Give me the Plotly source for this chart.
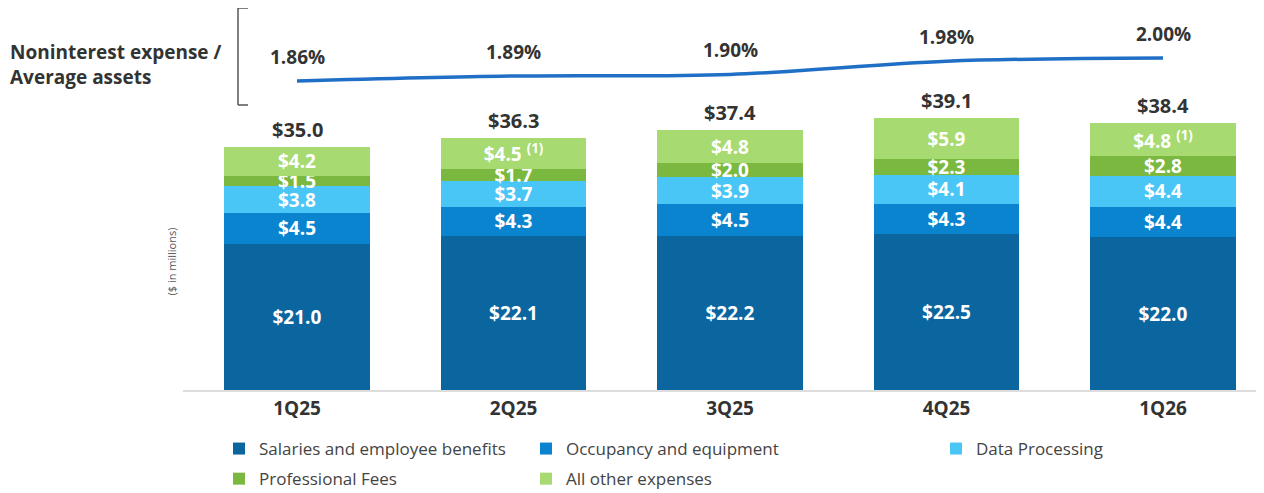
import plotly.graph_objects as go

quarters = ["1Q25", "2Q25", "3Q25", "4Q25", "1Q26"]

salaries = [21.0, 22.1, 22.2, 22.5, 22.0]
occupancy = [4.5, 4.3, 4.5, 4.3, 4.4]
data_processing = [3.8, 3.7, 3.9, 4.1, 4.4]
professional_fees = [1.5, 1.7, 2.0, 2.3, 2.8]
all_other = [4.2, 4.5, 4.8, 5.9, 4.8]
all_other_notes = ["", "(1)", "", "", "(1)"]
totals = [35.0, 36.3, 37.4, 39.1, 38.4]

expense_ratio = [1.86, 1.89, 1.90, 1.98, 2.00]

FONT = "Open Sans"

# page has an 8px body margin, so the figure is 1256 x 485 starting at (8, 8)
OFF = 8
FW, FH = 1256, 485
L, R, T, B = 175, 0, 0, 103
W, H = FW - L - R, FH - T - B

# category slot ~216.5px, first bar centred at page x ~297
CAT_PX = 216.5
x0 = -(297 - OFF - L) / CAT_PX
x_range = [x0, x0 + W / CAT_PX]


def px_x(px):
	return (px - OFF - L) / W


def px_y(py):
	return (H - (py - OFF - T)) / H


series = [
	("Salaries and employee benefits", salaries, "#0b659f", "legend"),
	("Occupancy and equipment", occupancy, "#0b84cf", "legend2"),
	("Data Processing", data_processing, "#49c5f6", "legend3"),
	("Professional Fees", professional_fees, "#7ab83f", "legend"),
	("All other expenses", all_other, "#a7da70", "legend2"),
]

fig = go.Figure()
for name, vals, color, leg in series:
	if name == "All other expenses":
		text = [f"${v:.1f}" + (f" <sup>{n}</sup>" if n else "") for v, n in zip(vals, all_other_notes)]
	else:
		text = [f"${v:.1f}" for v in vals]
	fig.add_trace(go.Bar(
		x=quarters, y=vals, name=name, marker=dict(color=color, line=dict(width=0)),
		text=text, textposition="inside", insidetextanchor="middle", textangle=0,
		constraintext="none",
		textfont=dict(family=FONT, size=19, color="white", weight="bold"),
		legend=leg, legendgroup=name, hoverinfo="skip",
	))

fig.add_trace(go.Scatter(
	x=quarters, y=expense_ratio, yaxis="y2", mode="lines",
	line=dict(color="#1f6fc6", width=3.5, shape="spline"),
	showlegend=False, hoverinfo="skip",
))

annotations = []
for q, t in zip(quarters, totals):
	annotations.append(dict(x=q, y=t, xref="x", yref="y", text=f"<b>${t:.1f}</b>",
							showarrow=False, yanchor="bottom", yshift=2,
							font=dict(family=FONT, size=20, color="#333333")))
for q, v in zip(quarters, expense_ratio):
	annotations.append(dict(x=q, y=v, xref="x", yref="y2", text=f"<b>{v:.2f}%</b>",
							showarrow=False, yanchor="middle", yshift=24,
							font=dict(family=FONT, size=19, color="#333333")))
annotations.append(dict(x=px_x(8), y=px_y(64), xref="paper", yref="paper",
						text="<b>Noninterest expense /<br>Average assets</b>", align="left",
						showarrow=False, xanchor="left", yanchor="middle",
						font=dict(family=FONT, size=19, color="#333333")))
annotations.append(dict(x=px_x(161), y=px_y(262), xref="paper", yref="paper",
						text="($ in millions)", textangle=-90, showarrow=False,
						font=dict(family=FONT, size=11, color="#555555")))

shapes = [
	dict(type="line", xref="paper", yref="paper", x0=px_x(238), x1=px_x(238), y0=px_y(8), y1=px_y(105),
		 line=dict(color="#555555", width=1.5)),
	dict(type="line", xref="paper", yref="paper", x0=px_x(238), x1=px_x(248), y0=px_y(8), y1=px_y(8),
		 line=dict(color="#555555", width=1.5)),
	dict(type="line", xref="paper", yref="paper", x0=px_x(238), x1=px_x(248), y0=px_y(105), y1=px_y(105),
		 line=dict(color="#555555", width=1.5)),
]

legend_style = dict(orientation="v", traceorder="grouped", yanchor="top", xanchor="left",
					font=dict(family=FONT, size=17, color="#444444"), tracegroupgap=5,
					bgcolor="rgba(0,0,0,0)", itemclick=False, itemdoubleclick=False)

fig.update_layout(
	width=FW, height=FH,
	margin=dict(l=L, r=R, t=T, b=B, autoexpand=False),
	barmode="stack", bargap=0.33,
	plot_bgcolor="white", paper_bgcolor="white",
	font=dict(family=FONT, color="#333333"),
	xaxis=dict(range=x_range, showline=True, linecolor="#dddddd", linewidth=2, ticks="",
			   tickfont=dict(family=FONT, size=19, color="#333333", weight="bold"),
			   showgrid=False, fixedrange=True),
	yaxis=dict(range=[0, H / 6.95], visible=False, showgrid=False, fixedrange=True),
	yaxis2=dict(range=[-0.021, -0.021 + H / 164.3], overlaying="y", visible=False,
				showgrid=False, fixedrange=True),
	legend=dict(x=px_x(219), y=px_y(431), **legend_style),
	legend2=dict(x=px_x(526), y=px_y(431), **legend_style),
	legend3=dict(x=px_x(936), y=px_y(431), **legend_style),
	annotations=annotations,
	shapes=shapes,
	showlegend=True,
)

fig.write_html("out.html")
